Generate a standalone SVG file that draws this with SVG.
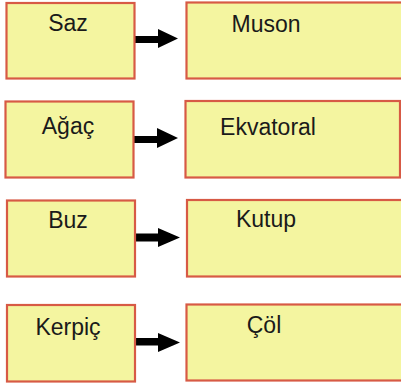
<svg xmlns="http://www.w3.org/2000/svg" width="401" height="388" viewBox="0 0 401 388">
  <style>
    .box { fill: #f4f5a0; stroke: #d75a45; stroke-width: 2.2; }
    .lbl { font-family: "Liberation Sans", Arial, sans-serif; font-size: 23px; fill: #1a1a1a; text-anchor: middle; }
    .arrow { fill: #000; }
  </style>
  <rect width="401" height="388" fill="#fff"/>

  <!-- thick block arrows between each pair of boxes -->
  <g id="connectors" class="arrow">
    <path d="M134,36 H158 V29 L178,38.5 L158,48 V43 H134 Z"/>
    <path d="M133,136 H157 V128 L178,138 L157,148 V143 H133 Z"/>
    <path d="M135,233.5 H158 V228 L180,237.5 L158,247 V241.5 H135 Z"/>
    <path d="M134,338 H158 V333 L180,342.5 L158,352 V345.5 H134 Z"/>
  </g>

  <g id="saz">
    <rect class="box" x="6.5" y="3" width="128" height="75.5"/>
    <text class="lbl" x="68" y="31">Saz</text>
  </g>
  <g id="muson">
    <rect class="box" x="186.5" y="2.5" width="218" height="76"/>
    <text class="lbl" x="266" y="31.5">Muson</text>
  </g>

  <g id="agac">
    <rect class="box" x="5.5" y="101.5" width="128" height="76"/>
    <text class="lbl" x="68" y="133.5">Ağaç</text>
  </g>
  <g id="ekvatoral">
    <rect class="box" x="185.5" y="101" width="214.5" height="76.5"/>
    <text class="lbl" x="268" y="135">Ekvatoral</text>
  </g>

  <g id="buz">
    <rect class="box" x="7" y="200.5" width="128" height="76"/>
    <text class="lbl" x="68" y="227.5">Buz</text>
  </g>
  <g id="kutup">
    <rect class="box" x="187" y="200" width="218" height="76.5"/>
    <text class="lbl" x="266" y="226.5">Kutup</text>
  </g>

  <g id="kerpic">
    <rect class="box" x="7" y="305" width="128" height="76.5"/>
    <text class="lbl" x="68" y="335">Kerpiç</text>
  </g>
  <g id="col">
    <rect class="box" x="186.5" y="304.5" width="218" height="76"/>
    <text class="lbl" x="264" y="332.5">Çöl</text>
  </g>
</svg>
